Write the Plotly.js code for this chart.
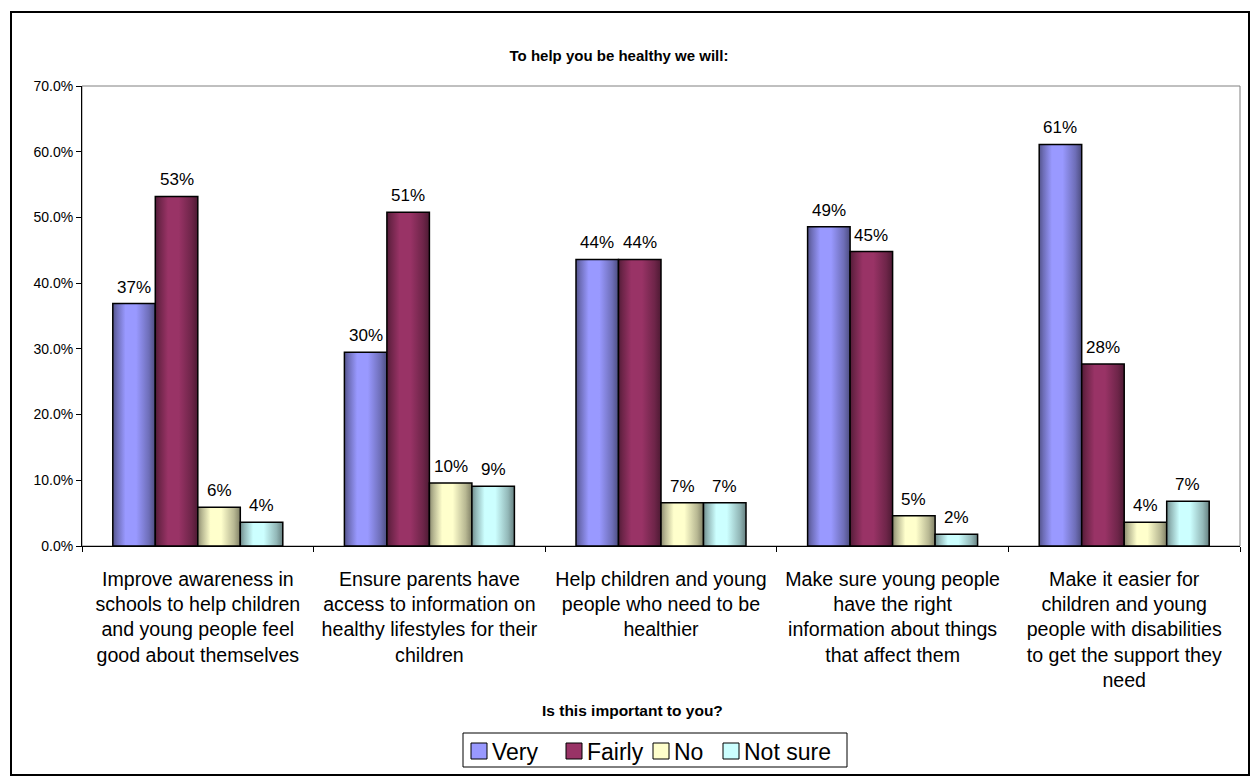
<!DOCTYPE html>
<html>
<head>
<meta charset="utf-8">
<script src="https://cdn.plot.ly/plotly-3.0.1.min.js"></script>
<style>
html,body{margin:0;padding:0;background:#fff;}
#chart{width:1250px;height:776px;}
</style>
</head>
<body>
<div id="chart"></div>
<script>
// ---- data ----
const categories = [
  "Improve awareness in<br>schools to help children<br>and young people feel<br>good about themselves",
  "Ensure parents have<br>access to information on<br>healthy lifestyles for their<br>children",
  "Help children and young<br>people who need to be<br>healthier",
  "Make sure young people<br>have the right<br>information about things<br>that affect them",
  "Make it easier for<br>children and young<br>people with disabilities<br>to get the support they<br>need"
];
const seriesNames = ["Very", "Fairly", "No", "Not sure"];
const very    = [0.369, 0.295, 0.436, 0.486, 0.611];
const fairly  = [0.532, 0.508, 0.436, 0.448, 0.277];
const no      = [0.059, 0.096, 0.066, 0.046, 0.036];
const notSure = [0.036, 0.091, 0.066, 0.018, 0.068];
const seriesValues = [very, fairly, no, notSure];
const seriesColors = ["#9999FF", "#993366", "#FFFFCC", "#CCFFFF"];
const chartTitle = "To help you be healthy we will:";
const axisTitle = "Is this important to you?";

// ---- layout constants (pixels) ----
const W = 1250, H = 776;
const M = {l: 82, r: 10, t: 86, b: 230};
const pw = W - M.l - M.r, ph = H - M.t - M.b;
const px2x = x => (x - M.l) / pw;
const py2y = y => (H - M.b - y) / ph;
const BARGAP = 0.266;
const barPx = pw / categories.length * (1 - BARGAP) / seriesNames.length;

const FONT = "Arial, 'Liberation Sans', Helvetica, sans-serif";

const traces = seriesNames.map((name, i) => ({
  type: "bar",
  name: name,
  x: categories,
  y: seriesValues[i],
  marker: {color: seriesColors[i], line: {color: "#000", width: 1.5}},
  showlegend: false,
  hoverinfo: "skip"
}));

// data labels above the bars
const labelAnn = [];
seriesValues.forEach((vals, i) => {
  vals.forEach((v, j) => {
    labelAnn.push({
      x: categories[j], y: v, xref: "x", yref: "y",
      text: Math.round(v * 100) + "%",
      showarrow: false, xanchor: "center", yanchor: "bottom",
      xshift: (i - (seriesNames.length - 1) / 2) * barPx,
      yshift: 5,
      font: {family: FONT, size: 17, color: "#000"}
    });
  });
});

// custom legend (Excel style)
const legBox = {x0: 463, x1: 847, y0: 733, y1: 767};
const legSymX = [471, 566, 653, 723];
const legSym = 16;
const legCy = 751;
const legendShapes = [{
  type: "rect", xref: "paper", yref: "paper",
  x0: px2x(legBox.x0), x1: px2x(legBox.x1), y0: py2y(legBox.y1), y1: py2y(legBox.y0),
  line: {color: "#000", width: 1}, fillcolor: "#fff", layer: "above"
}];
const legendAnn = [];
seriesNames.forEach((name, i) => {
  legendShapes.push({
    type: "rect", xref: "paper", yref: "paper",
    x0: px2x(legSymX[i]), x1: px2x(legSymX[i] + legSym),
    y0: py2y(legCy + legSym / 2), y1: py2y(legCy - legSym / 2),
    line: {color: "#000", width: 1}, fillcolor: seriesColors[i], layer: "above"
  });
  legendAnn.push({
    xref: "paper", yref: "paper",
    x: px2x(legSymX[i] + legSym + 3), y: py2y(legCy + 1),
    xanchor: "left", yanchor: "middle", showarrow: false,
    text: name, font: {family: FONT, size: 23, color: "#000"}
  });
});

const layout = {
  width: W, height: H,
  margin: M,
  paper_bgcolor: "#fff",
  plot_bgcolor: "#fff",
  font: {family: FONT, color: "#000"},
  barmode: "group",
  bargap: BARGAP,
  bargroupgap: 0,
  showlegend: false,
  title: {
    text: "<b>" + chartTitle + "</b>",
    font: {family: FONT, size: 15, color: "#000"},
    x: 619 / W, xref: "container", xanchor: "center",
    y: 1 - 56 / H, yref: "container", yanchor: "middle"
  },
  xaxis: {
    type: "category",
    showline: true, linecolor: "#000", linewidth: 1,
    ticks: "outside", tickson: "boundaries", ticklen: 5, tickcolor: "#000",
    tickfont: {family: FONT, size: 19.6, color: "#000"},
    ticklabelstandoff: 15,
    showgrid: false, zeroline: false, fixedrange: true
  },
  yaxis: {
    range: [0, 0.7], dtick: 0.1, tick0: 0, tickformat: ".1%",
    showline: true, linecolor: "#000", linewidth: 1,
    ticks: "outside", ticklen: 5, tickcolor: "#000",
    tickfont: {family: FONT, size: 14, color: "#000"},
    showgrid: false, zeroline: false, fixedrange: true
  },
  annotations: labelAnn.concat(legendAnn, [{
    text: "<b>" + axisTitle + "</b>",
    xref: "paper", yref: "paper",
    x: px2x(632), y: py2y(710),
    xanchor: "center", yanchor: "middle",
    showarrow: false,
    font: {family: FONT, size: 15.5, color: "#000"}
  }]),
  shapes: [
    {type: "rect", xref: "paper", yref: "paper", x0: 0, x1: 1, y0: 0, y1: 1,
     line: {color: "#808080", width: 1}, layer: "below"},
    {type: "rect", xref: "paper", yref: "paper",
     x0: px2x(11), x1: px2x(1249), y0: py2y(775), y1: py2y(12),
     line: {color: "#000", width: 2}, layer: "above"}
  ].concat(legendShapes)
};

Plotly.newPlot("chart", traces, layout, {displayModeBar: false, staticPlot: true}).then(gd => {
  // cylinder-like shading of bars, as in the original chart
  const svg = gd.querySelector(".main-svg");
  const ns = "http://www.w3.org/2000/svg";
  let defs = svg.querySelector("defs");
  if (!defs) { defs = document.createElementNS(ns, "defs"); svg.insertBefore(defs, svg.firstChild); }
  const shade = (hex, f) => {
    const n = parseInt(hex.slice(1), 16);
    const r = Math.round(((n >> 16) & 255) * f), g = Math.round(((n >> 8) & 255) * f), b = Math.round((n & 255) * f);
    return `rgb(${r},${g},${b})`;
  };
  const stops = [[0, 0.55], [0.1, 0.72], [0.3, 1.0], [0.55, 1.0], [0.85, 0.72], [1, 0.5]];
  seriesColors.forEach((c, i) => {
    const lg = document.createElementNS(ns, "linearGradient");
    lg.setAttribute("id", "barshade" + i);
    lg.setAttribute("x1", "0"); lg.setAttribute("x2", "1");
    lg.setAttribute("y1", "0"); lg.setAttribute("y2", "0");
    stops.forEach(([o, f]) => {
      const s = document.createElementNS(ns, "stop");
      s.setAttribute("offset", o);
      s.setAttribute("stop-color", shade(c, f));
      lg.appendChild(s);
    });
    defs.appendChild(lg);
  });
  gd.querySelectorAll(".barlayer .trace").forEach((tr, i) => {
    tr.querySelectorAll(".point path").forEach(p => { p.style.fill = "url(#barshade" + i + ")"; });
  });
});
</script>
</body>
</html>
